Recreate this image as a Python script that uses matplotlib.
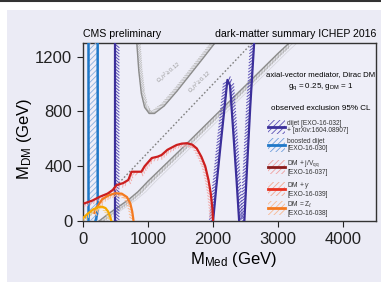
import matplotlib
matplotlib.use('Agg')
import matplotlib.pyplot as plt
import matplotlib.patheffects as pe
from matplotlib.patches import Rectangle
from matplotlib.lines import Line2D

plt.rcParams['font.family'] = ['Liberation Sans', 'DejaVu Sans']
plt.rcParams['mathtext.fontset'] = 'custom'
plt.rcParams['mathtext.rm'] = 'Liberation Sans'
plt.rcParams['mathtext.it'] = 'Liberation Sans:italic'
plt.rcParams['hatch.linewidth'] = 0.6

# boosted dijet [EXO-16-030]
boost_left_x = [80, 80]
boost_left_y = [0, 1300]
boost_right_x = [195, 210, 222, 228, 230, 230]
boost_right_y = [0, 25, 55, 90, 130, 1300]

# dijet [EXO-16-032] + [arXiv:1604.08907]
dijet_low_x = [500, 500]
dijet_low_y = [0, 1300]
dijet_v_x = [2000, 2050, 2110, 2170, 2220, 2260, 2310, 2360, 2400]
dijet_v_y = [0, 250, 530, 800, 1030, 990, 650, 300, 0]
dijet_hi_x = [2480, 2520, 2570, 2630]
dijet_hi_y = [0, 380, 830, 1300]

# DM + j/V_qq [EXO-16-037]
monojet_x = [30, 150, 260, 380, 460, 520, 620, 700, 750, 900, 950, 1060, 1150, 1210,
             1300, 1440, 1520, 1600, 1680, 1750, 1820, 1880, 1930, 1965, 1990, 2000]
monojet_y = [130, 150, 177, 200, 226, 263, 277, 300, 360, 360, 400, 460, 470, 482,
             520, 555, 565, 568, 558, 530, 470, 400, 300, 200, 90, 0]

# DM + gamma [EXO-16-039]
monophoton_x = [180, 230, 300, 400, 500, 600, 680, 730, 760, 775, 780]
monophoton_y = [60, 110, 160, 188, 203, 200, 175, 130, 70, 20, 0]

# DM + Z_l [EXO-16-038]
monoz_x = [0, 80, 160, 240, 300, 350, 390, 420, 440]
monoz_y = [20, 55, 85, 103, 105, 95, 70, 35, 0]

# relic density curves
relic_u_x = [830, 860, 900, 950, 1020, 1100, 1250, 1450, 1650, 1850, 2030]
relic_u_y = [1300, 1100, 930, 830, 785, 785, 840, 950, 1070, 1190, 1300]
relic_low_x = [250, 400, 550, 700, 850, 1000, 1500, 2000, 2500, 3000, 3170]
relic_low_y = [0, 55, 105, 155, 215, 290, 520, 755, 990, 1225, 1300]
diag_x = [0, 2600]
diag_y = [0, 1300]

x_ticks = [0, 1000, 2000, 3000, 4000]
y_ticks = [0, 400, 800, 1200]

INDIGO = '#3b2f9a'
BLUE = '#1f78c8'
RED = '#cc1f1f'
ORANGE = '#f47a20'
YELLOW = '#f6a800'
GRAY = '#8c8c8c'
BG = '#ebebf5'

fig = plt.figure(figsize=(3.81, 2.82), dpi=100, facecolor='white')
fig.add_artist(Rectangle((7 / 381, 0), 1, 1 - 10 / 282, transform=fig.transFigure,
                         facecolor=BG, edgecolor='none', zorder=-10))
fig.add_artist(Line2D([0, 1], [1 - 1 / 282] * 2, transform=fig.transFigure,
                      color='#333333', lw=1.5))
ax = fig.add_axes([0.217, 0.216, 0.77, 0.632])
ax.set_facecolor('#eeeef8')


def ticked(color, angle, lw=0.7, spacing=2.2, length=1.6):
    return [pe.TickedStroke(spacing=spacing, angle=angle, length=length,
                            foreground=color, linewidth=lw), pe.Normal()]


# relic lines
ax.plot(relic_u_x, relic_u_y, color=GRAY, lw=1.0, zorder=2,
        path_effects=ticked('#bcbcbc', 135, lw=0.6, spacing=1.6, length=2.2))
for dx, a in [(0, 1.0), (60, 0.35), (120, 0.25)]:
    ax.plot([v + dx for v in relic_low_x], relic_low_y, color=GRAY, lw=1.0 if dx == 0 else 0.6,
            alpha=a, zorder=2,
            path_effects=ticked('#bcbcbc', -135, lw=0.6, spacing=1.6, length=2.2) if dx == 0 else None)
ax.plot(diag_x, diag_y, color='#808080', lw=1.0, ls=(0, (1.2, 1.5)), zorder=2)
ax.text(1330, 1080, r'$\Omega_c h^2 \geq 0.12$', fontsize=4, color='#999999',
        rotation=40, ha='center', va='center', zorder=2)
ax.text(1800, 1010, r'$\Omega_c h^2 \geq 0.12$', fontsize=4, color='#999999',
        rotation=44, ha='center', va='center', zorder=2)

# boosted dijet
ax.fill_betweenx(boost_left_y, boost_left_x, [230, 230], facecolor='none',
                 edgecolor='#8ab0dd', hatch='//////', linewidth=0, zorder=3)
ax.plot(boost_left_x, boost_left_y, color=BLUE, lw=1.8, zorder=4)
ax.plot(boost_right_x, boost_right_y, color=BLUE, lw=1.8, zorder=4)

# dijet
ax.plot(dijet_low_x, dijet_low_y, color=INDIGO, lw=1.6, zorder=4,
        path_effects=ticked('#5b50b5', -130))
ax.plot(dijet_v_x, dijet_v_y, color=INDIGO, lw=1.6, zorder=4,
        path_effects=ticked('#5b50b5', 130))
ax.plot(dijet_hi_x, dijet_hi_y, color=INDIGO, lw=1.6, zorder=4,
        path_effects=ticked('#5b50b5', 130))

# mono-X
ax.plot(monojet_x, monojet_y, color=RED, lw=1.6, zorder=5,
        path_effects=ticked('#f2a8a8', -130, length=1.4))
ax.plot(monophoton_x, monophoton_y, color=ORANGE, lw=1.6, zorder=5,
        path_effects=ticked('#f8b890', -130, length=1.4))
ax.plot(monoz_x, monoz_y, color=YELLOW, lw=1.6, zorder=5,
        path_effects=ticked('#f8d080', -130, length=1.4))

ax.set_xlim(0, 4500)
ax.set_ylim(0, 1300)
ax.set_xticks(x_ticks)
ax.set_yticks(y_ticks)
ax.tick_params(direction='out', length=4, width=0.8, labelsize=12, colors='#222222',
               top=False, right=False)
for s in ax.spines.values():
    s.set_color('#333333')
    s.set_linewidth(1.0)
ax.set_xlabel(r'M$_{\mathrm{Med}}$ (GeV)', fontsize=12)
ax.set_ylabel(r'M$_{\mathrm{DM}}$ (GeV)', fontsize=12)
ax.xaxis.set_label_coords(0.515, -0.16)
ax.yaxis.set_label_coords(-0.165, 0.46)

ax.text(0.0, 1.02, 'CMS preliminary', transform=ax.transAxes, fontsize=7.6,
        ha='left', va='bottom')
ax.text(1.0, 1.02, 'dark-matter summary ICHEP 2016', transform=ax.transAxes, fontsize=7.6,
        ha='right', va='bottom')

ax.text(0.81, 0.82, 'axial-vector mediator, Dirac DM', transform=ax.transAxes,
        fontsize=5.6, ha='center', va='center')
ax.text(0.81, 0.755, r'g$_{\mathrm{q}}$ = 0.25, g$_{\mathrm{DM}}$ = 1', transform=ax.transAxes,
        fontsize=5.8, ha='center', va='center')
ax.text(0.81, 0.63, 'observed exclusion 95% CL', transform=ax.transAxes,
        fontsize=5.8, ha='center', va='center')

legend_items = [
    ('dijet [EXO-16-032]\n+ [arXiv:1604.08907]', INDIGO, '#5b50b5'),
    ('boosted dijet\n[EXO-16-030]', BLUE, '#6f9fdc'),
    (r'DM + j/V$_{\mathrm{qq}}$' + '\n[EXO-16-037]', '#8a1a1a', '#f0a0a0'),
    (r'DM + $\gamma$' + '\n[EXO-16-039]', '#e83020', '#f4a890'),
    (r'DM = Z$_{\ell}$' + '\n[EXO-16-038]', ORANGE, '#f8b890'),
]
leg_y = [0.528, 0.426, 0.305, 0.18, 0.073]
for (label, lc, hc), yy in zip(legend_items, leg_y):
    ax.add_patch(Rectangle((0.632, yy - 0.04), 0.058, 0.08, transform=ax.transAxes,
                           facecolor='none', edgecolor=hc, hatch='//////', linewidth=0,
                           zorder=6))
    ax.add_line(Line2D([0.632, 0.69], [yy, yy], transform=ax.transAxes, color=lc,
                       lw=2.0, zorder=7))
    ax.text(0.698, yy, label, transform=ax.transAxes, fontsize=4.8,
            ha='left', va='center', linespacing=1.05, color='#333333', zorder=7)

fig.savefig('out.png', dpi=100, facecolor='white')
